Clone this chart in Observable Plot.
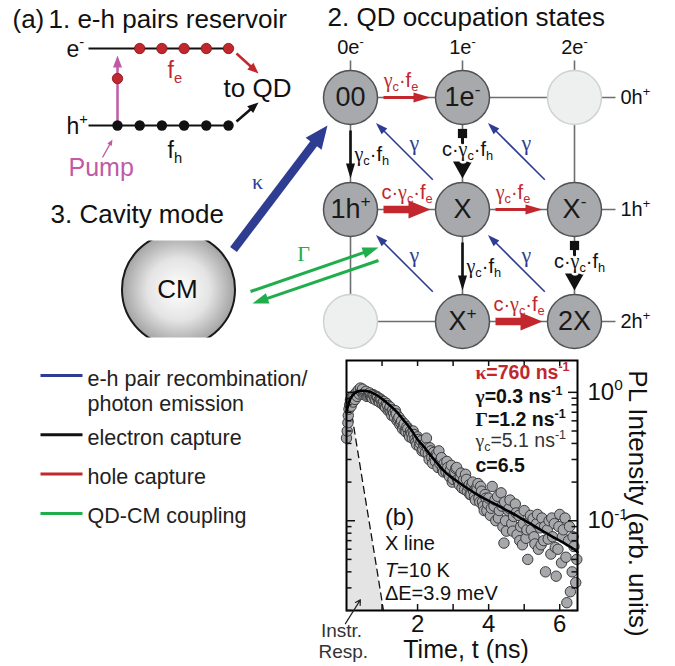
<!DOCTYPE html>
<html><head><meta charset="utf-8">
<script src="https://cdn.jsdelivr.net/npm/d3@7"></script>
<script src="https://cdn.jsdelivr.net/npm/@observablehq/plot@0.6"></script>
<style>
html,body{margin:0;padding:0;background:#fff;}
#fig{position:relative;width:675px;height:666px;overflow:hidden;}
#fig svg{position:absolute;max-width:none;}
</style></head><body><div id="fig"></div>
<script>
const NS = "http://www.w3.org/2000/svg";
const SANS = "'Liberation Sans', Arial, Helvetica, sans-serif";
const SERIF = "'Liberation Serif', 'DejaVu Serif', serif";

// ================= DATA =================
// (a) 1. e-h pairs reservoir: occupied slots on each level
const electronSlots = [1, 2, 3, 4, 5];
const holeSlots = [0, 1, 2, 3, 4, 5];
const pumpedSlot = [0];

// (a) 2. QD occupation states (row = holes, column = electrons)
const electronCounts = ["0e^{-}", "1e^{-}", "2e^{-}"];
const holeCounts = ["0h^{+}", "1h^{+}", "2h^{+}"];
const stateLabels = ["00", "1e^{-}", "", "1h^{+}", "X", "X^{-}", "", "X^{+}", "2X"];
const transitions = [
  {from: [0, 0], to: [1, 0], kind: "redThin", label: "γ_{c}·f_{e}"},
  {from: [1, 1], to: [2, 1], kind: "redThin", label: "γ_{c}·f_{e}"},
  {from: [0, 1], to: [1, 1], kind: "redThick", label: "c·γ_{c}·f_{e}"},
  {from: [1, 2], to: [2, 2], kind: "redThick", label: "c·γ_{c}·f_{e}"},
  {from: [0, 0], to: [0, 1], kind: "blackThin", label: "γ_{c}·f_{h}"},
  {from: [1, 1], to: [1, 2], kind: "blackThin", label: "γ_{c}·f_{h}"},
  {from: [1, 0], to: [1, 1], kind: "blackThick", label: "c·γ_{c}·f_{h}"},
  {from: [2, 1], to: [2, 2], kind: "blackThick", label: "c·γ_{c}·f_{h}"},
  {from: [1, 1], to: [0, 0], kind: "blue", label: "γ"},
  {from: [2, 1], to: [1, 0], kind: "blue", label: "γ"},
  {from: [1, 2], to: [0, 1], kind: "blue", label: "γ"},
  {from: [2, 2], to: [1, 1], kind: "blue", label: "γ"}
];
const legendLabels = ["e-h pair recombination/\nphoton emission", "electron capture", "hole capture", "QD-CM coupling"];

// (b) PL decay of the X line: [time (ns), PL intensity (arb. units)]
const measuredPL = [
 [0.00,0.44],[0.02,0.50],[0.04,0.58],[0.05,0.66],[0.07,0.74],[0.09,0.80],[0.11,0.87],[0.13,0.78],[0.15,0.92],
 [0.18,0.84],[0.21,0.95],[0.24,0.88],[0.27,0.99],[0.30,0.93],[0.33,1.04],[0.36,0.97],[0.39,1.08],[0.42,1.01],
 [0.45,1.06],[0.475,0.96],[0.50,0.98],[0.525,1.00],[0.55,1.02],[0.575,0.93],[0.60,0.95],[0.625,0.97],[0.65,0.99],
 [0.675,0.95],[0.70,0.92],[0.725,0.90],[0.75,0.96],[0.775,0.94],[0.80,0.90],[0.825,0.87],[0.85,0.93],[0.875,0.91],
 [0.90,0.86],[0.925,0.84],[0.95,0.89],[0.975,0.87],[1.00,0.82],[1.025,0.80],[1.05,0.85],[1.075,0.78],[1.10,0.76],
 [1.125,0.82],[1.15,0.79],[1.175,0.72],[1.20,0.74],[1.225,0.77],[1.25,0.70],[1.275,0.66],[1.30,0.73],[1.325,0.69],
 [1.35,0.64],[1.375,0.72],[1.40,0.68],[1.425,0.60],[1.45,0.62],[1.475,0.64],[1.50,0.56],[1.525,0.58],[1.55,0.60],
 [1.575,0.52],[1.60,0.55],[1.625,0.57],[1.65,0.50],[1.675,0.49],[1.70,0.54],[1.725,0.52],[1.75,0.47],[1.775,0.45],
 [1.80,0.50],[1.825,0.48],[1.85,0.44],[1.875,0.50],[1.90,0.47],[1.925,0.43],[1.95,0.41],[1.975,0.39],[2.00,0.45],
 [2.025,0.43],[2.05,0.38],[2.075,0.40],[2.10,0.42],[2.125,0.35],[2.15,0.36],[2.175,0.39],[2.20,0.40],[2.225,0.34],
 [2.25,0.44],[2.275,0.37],[2.30,0.33],[2.325,0.30],[2.35,0.37],[2.375,0.35],[2.40,0.31],[2.425,0.28],[2.45,0.34],
 [2.475,0.31],[2.50,0.29],[2.525,0.33],[2.55,0.32],[2.575,0.26],[2.60,0.35],[2.625,0.28],[2.65,0.30],[2.675,0.31],
 [2.70,0.25],[2.725,0.24],[2.75,0.28],[2.775,0.26],[2.80,0.24],[2.825,0.29],[2.85,0.26],[2.875,0.23],[2.90,0.22],
 [2.925,0.25],[2.95,0.27],[2.975,0.20],[3.00,0.21],[3.025,0.23],[3.05,0.24],[3.075,0.255],[3.10,0.26],[3.125,0.21],
 [3.15,0.20],[3.175,0.19],[3.20,0.22],[3.225,0.235],[3.25,0.18],[3.275,0.20],[3.30,0.21],[3.325,0.175],[3.35,0.23],
 [3.375,0.21],[3.40,0.17],[3.425,0.185],[3.45,0.19],[3.475,0.16],[3.50,0.16],[3.525,0.19],[3.55,0.20],[3.575,0.17],
 [3.60,0.155],[3.625,0.145],[3.65,0.18],[3.675,0.175],[3.70,0.195],[3.725,0.15],[3.75,0.14],[3.775,0.185],[3.80,0.17],
 [3.825,0.14],[3.85,0.13],[3.875,0.12],[3.90,0.16],[3.925,0.15],[3.95,0.12],[3.975,0.135],[4.00,0.15],[4.05,0.11],
 [4.075,0.125],[4.10,0.185],[4.15,0.13],[4.175,0.145],[4.20,0.10],[4.25,0.155],[4.275,0.105],[4.30,0.12],[4.35,0.165],
 [4.375,0.13],[4.40,0.09],[4.43,0.067],[4.45,0.14],[4.475,0.10],[4.50,0.083],[4.55,0.12],[4.575,0.125],[4.60,0.145],
 [4.65,0.095],[4.675,0.083],[4.70,0.108],[4.75,0.135],[4.775,0.115],[4.80,0.078],[4.85,0.11],[4.875,0.07],[4.90,0.09],
 [4.95,0.065],[4.975,0.095],[5.00,0.12],[5.05,0.073],[5.075,0.085],[5.10,0.05],[5.15,0.10],[5.175,0.11],[5.20,0.085],
 [5.25,0.104],[5.275,0.075],[5.30,0.066],[5.35,0.095],[5.375,0.112],[5.40,0.06],[5.45,0.088],[5.475,0.065],[5.50,0.105],
 [5.55,0.07],[5.575,0.09],[5.60,0.04],[5.65,0.085],[5.675,0.072],[5.70,0.10],[5.75,0.055],[5.775,0.105],[5.80,0.075],
 [5.85,0.095],[5.875,0.062],[5.90,0.037],[5.95,0.06],[5.975,0.09],[6.00,0.112],[6.05,0.047],[6.075,0.075],[6.10,0.085],
 [6.15,0.105],[6.175,0.052],[6.20,0.023],[6.25,0.07],[6.275,0.09],[6.30,0.028],[6.35,0.04],[6.375,0.075],[6.40,0.063],
 [6.45,0.033],[6.48,0.05]
];
const fitPL = [
 [0.0,0.70],[0.05,0.80],[0.1,0.88],[0.15,0.93],[0.2,0.97],[0.3,1.01],[0.4,1.03],[0.5,1.03],[0.6,1.02],[0.8,0.97],
 [1.0,0.89],[1.2,0.80],[1.4,0.71],[1.6,0.61],[1.8,0.52],[2.0,0.43],[2.2,0.37],[2.4,0.315],[2.6,0.27],[2.8,0.236],
 [3.0,0.213],[3.2,0.195],[3.4,0.179],[3.6,0.165],[3.8,0.153],[4.0,0.143],[4.2,0.134],[4.4,0.125],[4.6,0.117],
 [4.8,0.109],[5.0,0.101],[5.2,0.094],[5.4,0.087],[5.6,0.081],[5.8,0.075],[6.0,0.070],[6.2,0.065],[6.4,0.060],[6.5,0.057]
];
const instrResp = [[0.0,0.70],[0.05,0.80],[0.1,0.82],[0.3,0.37],[0.5,0.168],[0.7,0.077],[0.9,0.035],[1.04,0.02]];
const rateLabels = ["κ=760 ns^{-1}", "γ=0.3 ns^{-1}", "Γ=1.2 ns^{-1}", "γ_{c}=5.1 ns^{-1}", "c=6.5"];
const sampleLabels = ["(b)", "X line", "*{T}=10 K", "ΔE=3.9 meV"];
const instrLabels = ["Instr.", "Resp."];
const timeTicks = [1, 2, 3, 4, 5, 6];
const timeTickLabels = [2, 4, 6];
const intensityMajor = [0.1, 1];
const intensityMinor = [0.02, 0.03, 0.04, 0.05, 0.06, 0.07, 0.08, 0.09, 0.2, 0.3, 0.4, 0.5, 0.6, 0.7, 0.8, 0.9];

// ================= STYLE / LAYOUT =================
const C = {red: "#c1272d", blue: "#2e3d92", green: "#1fae4b", magenta: "#c05aa4", black: "#111",
           grid: "#6d6e71", stateFill: "#a7a9ac", stateStroke: "#505153", emptyFill: "#eeefef", emptyStroke: "#cfd1d2"};
const colX = e => 350 + 112 * e;
const rowY = h => 97 + 112 * h;
const RSTATE = 27;
const slotX = i => 117 + 22.2 * i;
const LEV = {e: 48, h: 125, x0: 88, x1: 228};
const rateY = [1.43, 0.931, 0.616, 0.42, 0.268];

function arrowMarks(arrows, {color, width, headLength, headWidth}) {
  const shafts = [], heads = [];
  arrows.forEach((a, k) => {
    const dx = a.x2 - a.x1, dy = a.y2 - a.y1, len = Math.hypot(dx, dy);
    const ux = dx / len, uy = dy / len, nx = -uy, ny = ux;
    const bx = a.x2 - ux * headLength, by = a.y2 - uy * headLength;
    shafts.push({x1: a.x1, y1: a.y1, x2: bx + ux, y2: by + uy});
    heads.push({id: k, x: a.x2, y: a.y2},
               {id: k, x: bx + nx * headWidth / 2, y: by + ny * headWidth / 2},
               {id: k, x: bx - nx * headWidth / 2, y: by - ny * headWidth / 2});
  });
  return [
    Plot.link(shafts, {x1: "x1", y1: "y1", x2: "x2", y2: "y2", stroke: color, strokeWidth: width}),
    Plot.line(heads, {x: "x", y: "y", z: "id", fill: color, stroke: "none"})
  ];
}

const kindStyle = {
  redThin: {color: C.red, width: 3, headLength: 17, headWidth: 10, g0: 33, g1: 32},
  redThick: {color: C.red, width: 7.5, headLength: 22, headWidth: 18, g0: 33, g1: 32},
  blackThin: {color: C.black, width: 2.6, headLength: 15, headWidth: 9, g0: 33, g1: 31},
  blackThick: {color: C.black, width: 3, headLength: 17, headWidth: 19, g0: 38, g1: 31},
  blue: {color: C.blue, width: 1.6, headLength: 12, headWidth: 8, g0: 42, g1: 36}
};
const geo = transitions.map(t => {
  const ax = colX(t.from[0]), ay = rowY(t.from[1]), bx = colX(t.to[0]), by = rowY(t.to[1]);
  const len = Math.hypot(bx - ax, by - ay), ux = (bx - ax) / len, uy = (by - ay) / len;
  const s = kindStyle[t.kind];
  const x1 = ax + ux * s.g0, y1 = ay + uy * s.g0, x2 = bx - ux * s.g1, y2 = by - uy * s.g1;
  let lx, ly;
  if (t.kind === "redThin") { lx = (x1 + x2) / 2 - 6; ly = ay - 17; }
  else if (t.kind === "redThick") { lx = (x1 + x2) / 2; ly = ay - 17; }
  else if (t.kind === "blackThin") { lx = ax + 4; ly = (y1 + y2) / 2; }
  else if (t.kind === "blackThick") { lx = ax + 5; ly = ay + 52; }
  else { lx = (x1 + x2) / 2 + 10; ly = (y1 + y2) / 2 - 8; }
  return {...t, x1, y1, x2, y2, sqx: ax, sqy: ay + 36, lx, ly};
});

// ================= PANEL (a) =================
const W = 675, H = 666;
const txt = (data, o) => Plot.text(data, {text: d => d, lineAnchor: "bottom", textAnchor: "start", fill: "#111", ...o});

const diagramMarks = [
  // reservoir levels
  Plot.link([LEV.e, LEV.h], {x1: LEV.x0, x2: LEV.x1, y1: d => d, y2: d => d, stroke: C.black, strokeWidth: 2}),
  ...arrowMarks([{x1: slotX(0), y1: LEV.h, x2: slotX(0), y2: LEV.e + 7}], {color: C.magenta, width: 2.5, headLength: 12, headWidth: 9}),
  ...arrowMarks([{x1: 102, y1: 157, x2: 112, y2: 139}], {color: C.magenta, width: 1.3, headLength: 6, headWidth: 5}),
  ...arrowMarks([{x1: 236, y1: 53, x2: 258, y2: 73}], {color: C.red, width: 2.5, headLength: 11, headWidth: 9}),
  ...arrowMarks([{x1: 236, y1: 121, x2: 258, y2: 102}], {color: C.black, width: 2.5, headLength: 11, headWidth: 9}),
  Plot.dot(electronSlots, {x: slotX, y: LEV.e, r: 5.2, fill: C.red, stroke: "#7a1519", strokeWidth: 0.8}),
  Plot.dot(pumpedSlot, {x: slotX, y: 78, r: 5.2, fill: C.red, stroke: "#7a1519", strokeWidth: 0.8}),
  Plot.dot(holeSlots, {x: slotX, y: LEV.h, r: 5.2, fill: C.black}),
  txt(["(a)"], {x: 12, y: 27, fontSize: 26}),
  txt(["1. e-h pairs reservoir"], {x: 48, y: 27, fontSize: 26}),
  txt(["e^{-}"], {x: 66, y: 56, fontSize: 23}),
  txt(["h^{+}"], {x: 66, y: 133, fontSize: 23}),
  txt(["f_{e}"], {x: 167, y: 77, fontSize: 23, fill: C.red}),
  txt(["f_{h}"], {x: 167, y: 157, fontSize: 23}),
  txt(["to QD"], {x: 223, y: 96, fontSize: 26}),
  txt(["Pump"], {x: 68, y: 175, fontSize: 25, fill: C.magenta}),

  // QD state grid
  Plot.link([0, 1, 2], {x1: colX, x2: colX, y1: 60, y2: rowY(2), stroke: C.grid, strokeWidth: 1.6}),
  Plot.link([0, 1, 2], {x1: colX(0), x2: 615, y1: rowY, y2: rowY, stroke: C.grid, strokeWidth: 1.6}),
  ...Object.keys(kindStyle).flatMap(k => arrowMarks(geo.filter(g => g.kind === k), kindStyle[k])),
  Plot.dot(geo.filter(g => g.kind === "blackThick"), {x: "sqx", y: "sqy", symbol: "square", r: 5.2, fill: C.black}),
  Plot.dot(stateLabels, {filter: d => d !== "", x: (d, i) => colX(i % 3), y: (d, i) => rowY(Math.floor(i / 3)), r: RSTATE, fill: C.stateFill, stroke: C.stateStroke, strokeWidth: 1.5}),
  Plot.dot(stateLabels, {filter: d => d === "", x: (d, i) => colX(i % 3), y: (d, i) => rowY(Math.floor(i / 3)), r: RSTATE, fill: C.emptyFill, stroke: C.emptyStroke, strokeWidth: 1.5}),
  Plot.text(stateLabels, {x: (d, i) => colX(i % 3), y: (d, i) => rowY(Math.floor(i / 3)), text: d => d, fontSize: 27, lineAnchor: "middle", fill: "#1a1a1a"}),
  Plot.text(electronCounts, {x: (d, i) => colX(i), y: 47, text: d => d, fontSize: 20, lineAnchor: "middle", fill: "#111"}),
  Plot.text(holeCounts, {x: 620, y: (d, i) => rowY(i), text: d => d, fontSize: 20, lineAnchor: "middle", textAnchor: "start", fill: "#111"}),
  Plot.text(geo.filter(g => g.kind.startsWith("red")), {x: "lx", y: "ly", text: "label", fontSize: 20, lineAnchor: "middle", fill: C.red}),
  Plot.text(geo.filter(g => g.kind === "blackThin"), {x: "lx", y: "ly", text: "label", fontSize: 20, lineAnchor: "middle", textAnchor: "start", fill: "#111"}),
  Plot.text(geo.filter(g => g.kind === "blackThick"), {x: "lx", y: "ly", text: "label", fontSize: 20, lineAnchor: "middle", fill: "#111", stroke: "white", strokeWidth: 5}),
  Plot.text(geo.filter(g => g.kind === "blue"), {x: "lx", y: "ly", text: "label", fontSize: 22, lineAnchor: "middle", fill: C.blue}),
  txt(["2. QD occupation states"], {x: 327, y: 25, fontSize: 26}),

  // cavity mode
  Plot.dot(["CM"], {x: 178, y: 289, r: 56.5, fill: "url(#cmGrad)", stroke: "#1a1a1a", strokeWidth: 2}),
  Plot.rect([0, 1], {x1: 140, x2: 216, y1: d => d ? 337.5 : 222, y2: d => d ? 352 : 240.5, fill: "white"}),
  Plot.text(["CM"], {x: 177, y: 289, text: d => d, fontSize: 26, lineAnchor: "middle", fill: "#111"}),
  txt(["3. Cavity mode"], {x: 50, y: 222, fontSize: 26}),
  ...arrowMarks([{x1: 233, y1: 249, x2: 327, y2: 125}], {color: C.blue, width: 8.5, headLength: 23, headWidth: 20}),
  ...arrowMarks([{x1: 250, y1: 291, x2: 378, y2: 247}, {x1: 378, y1: 260, x2: 252, y2: 303}], {color: C.green, width: 3, headLength: 16, headWidth: 11}),
  Plot.text(["κ"], {x: 257, y: 181, text: d => d, fontSize: 22, lineAnchor: "middle", fill: C.blue}),
  Plot.text(["Γ"], {x: 303, y: 253, text: d => d, fontSize: 22, lineAnchor: "middle", fill: C.green}),

  // legend
  Plot.link(legendLabels, {x1: 40, x2: 82, y1: (d, i) => 375 + 39.3 * i + (i ? 20 : 0), y2: (d, i) => 375 + 39.3 * i + (i ? 20 : 0),
    stroke: (d, i) => [C.blue, C.black, C.red, C.green][i], strokeWidth: 3}),
  Plot.text(legendLabels, {x: 87, y: (d, i) => 375 + 39.3 * i + (i ? 20 : 0) - 7.8, text: d => d, fontSize: 21.5, lineAnchor: "top", textAnchor: "start", lineHeight: 1.17, fill: "#222"})
];

const diagram = Plot.plot({
  width: W, height: H, margin: 0,
  x: {domain: [0, W], range: [0, W], axis: null},
  y: {domain: [0, H], range: [0, H], axis: null},
  style: {fontFamily: SANS, background: "transparent", overflow: "visible", color: "#111"},
  marks: diagramMarks
});

// ================= PANEL (b) =================
const IW = 375, IH = 326, ML = 46, MR = 98, MT = 20, MB = 56;
const FW = IW - ML - MR, FH = IH - MT - MB;
const yDomain = [0.02, 1.77];
const inset = Plot.plot({
  width: IW, height: IH, marginLeft: ML, marginRight: MR, marginTop: MT, marginBottom: MB,
  x: {domain: [0, 6.5]},
  y: {type: "log", domain: yDomain},
  style: {fontFamily: SANS, background: "transparent", overflow: "visible", color: "#111"},
  marks: [
    Plot.areaY(instrResp, {x: d => d[0], y1: yDomain[0], y2: d => d[1], fill: "#e4e4e4"}),
    Plot.line(instrResp.slice(2), {x: d => d[0], y: d => d[1], stroke: "#111", strokeWidth: 1.3, strokeDasharray: "7,5"}),
    Plot.dot(measuredPL, {x: d => d[0], y: d => d[1], r: 5.2, fill: "#a6a8ab", stroke: "#3b3b3b", strokeWidth: 1}),
    Plot.line(fitPL, {x: d => d[0], y: d => d[1], stroke: "#000", strokeWidth: 2.6, curve: "monotone-x"}),
    Plot.frame({stroke: "#000", strokeWidth: 2}),
    Plot.tickX(timeTicks, {x: d => d, insetTop: FH - 6, strokeWidth: 1.5}),
    Plot.tickX(timeTicks, {x: d => d, insetBottom: FH - 6, strokeWidth: 1.5}),
    Plot.tickY(intensityMajor, {y: d => d, insetRight: FW - 9, strokeWidth: 1.5}),
    Plot.tickY(intensityMinor, {y: d => d, insetRight: FW - 5.5, strokeWidth: 1.5}),
    Plot.tickY(intensityMajor, {y: d => d, insetLeft: FW - 9, strokeWidth: 1.5}),
    Plot.tickY(intensityMinor, {y: d => d, insetLeft: FW - 5.5, strokeWidth: 1.5}),
    Plot.axisX({anchor: "bottom", ticks: timeTickLabels, tickSize: 0, tickPadding: 4, fontSize: 24, label: null, tickFormat: d => String(d)}),
    Plot.axisY({anchor: "right", ticks: intensityMajor, tickSize: 0, tickPadding: 10, fontSize: 24, label: null,
                tickFormat: d => d === 1 ? "10^{0}" : "10^{-1}"}),
    Plot.text(["Time, t (ns)"], {frameAnchor: "bottom", dx: 4, dy: 47, lineAnchor: "bottom", textAnchor: "middle", fontSize: 25}),
    Plot.text(["PL Intensity (arb. units)"], {frameAnchor: "right", dx: 60, dy: 18, rotate: 90, fontSize: 26, lineAnchor: "middle", textAnchor: "middle"}),
    Plot.text([rateLabels[0]], {x: 3.63, y: rateY[0], text: d => d, textAnchor: "start", lineAnchor: "middle", fontSize: 19.5, fontWeight: "bold", fill: C.red}),
    Plot.text([rateLabels[1], rateLabels[2], rateLabels[4]], {x: 3.63, y: (d, i) => [rateY[1], rateY[2], rateY[4]][i], text: d => d, textAnchor: "start", lineAnchor: "middle", fontSize: 19.5, fontWeight: "bold"}),
    Plot.text([rateLabels[3]], {x: 3.63, y: rateY[3], text: d => d, textAnchor: "start", lineAnchor: "middle", fontSize: 19.5, fill: "#333"}),
    Plot.text(sampleLabels, {x: 1.08, y: (d, i) => [0.107, 0.0663, 0.041, 0.0272][i], text: d => d, textAnchor: "start", lineAnchor: "middle",
      fontSize: d => d === "(b)" ? 24 : 20}),
    Plot.arrow([0], {x1: -0.03, y1: 0.0158, x2: 0.39, y2: 0.0242, stroke: "#222", strokeWidth: 1.2, headLength: 7}),
    Plot.text(instrLabels, {x: (d, i) => [-0.14, -0.09][i], y: (d, i) => [0.01236, 0.00848][i], text: d => d, lineAnchor: "bottom", fontSize: 19, fill: "#333"})
  ]
});

// ================= ASSEMBLE =================
const fig = document.getElementById("fig");
diagram.style.left = "0px"; diagram.style.top = "0px";
inset.style.left = "300px"; inset.style.top = "340px";
fig.appendChild(diagram);
fig.appendChild(inset);

d3.select(diagram).insert("defs", ":first-child").html(
  '<radialGradient id="cmGrad" cx="50%" cy="50%" r="50%">' +
  '<stop offset="0%" stop-color="#ffffff"/><stop offset="55%" stop-color="#e4e4e4"/><stop offset="100%" stop-color="#a3a3a3"/></radialGradient>');

function richify(svg) {
  svg.querySelectorAll("text").forEach(el => {
    if (el.querySelector("tspan")) return;
    const s = el.textContent;
    if (!/[_^*]\{|[γΓκ]/.test(s)) return;
    const fs = parseFloat(getComputedStyle(el).fontSize) || 16;
    while (el.firstChild) el.removeChild(el.firstChild);
    const re = /([_^*])\{([^}]*)\}|([γΓκ])|([^_^*γΓκ]+)|([_^*])/g;
    let m, cur = 0;
    while ((m = re.exec(s))) {
      let t = "", target = 0, size = null, fam = null, ital = false;
      if (m[1]) {
        t = m[2];
        if (m[1] === "_") { target = 0.22 * fs; size = 0.64 * fs; }
        else if (m[1] === "^") { target = -0.4 * fs; size = 0.64 * fs; }
        else ital = true;
      } else if (m[3]) { t = m[3]; fam = SERIF; }
      else t = m[4] || m[5];
      const sp = document.createElementNS(NS, "tspan");
      if (Math.abs(target - cur) > 0.001) sp.setAttribute("dy", (target - cur).toFixed(2));
      cur = target;
      if (size) sp.setAttribute("font-size", size.toFixed(1));
      if (fam) sp.setAttribute("font-family", fam);
      if (ital) sp.setAttribute("font-style", "italic");
      sp.textContent = t;
      el.appendChild(sp);
    }
  });
}
richify(diagram);
richify(inset);
</script></body></html>
